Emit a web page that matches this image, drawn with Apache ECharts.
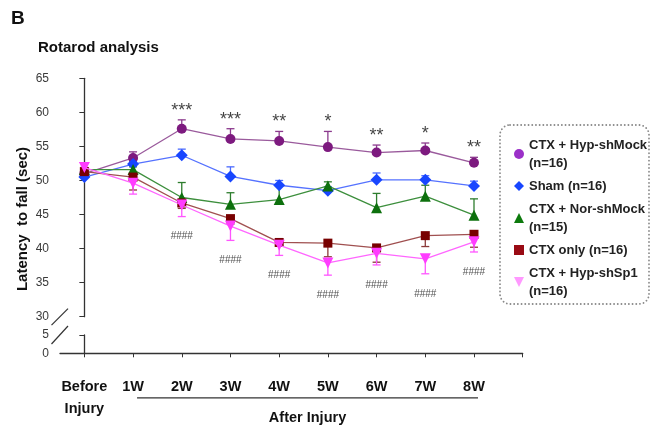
<!DOCTYPE html>
<html>
<head>
<meta charset="utf-8">
<script src="https://cdn.jsdelivr.net/npm/echarts@6/dist/echarts.min.js"></script>
<style>html,body{margin:0;padding:0;background:#fff}#c{width:650px;height:427px}</style>
</head>
<body>
<div id="c"></div>
<script>
const categories = ['Before\nInjury', '1W', '2W', '3W', '4W', '5W', '6W', '7W', '8W'];
const hypShMock    = [51.0, 53.3, 57.6, 56.1, 55.8, 54.9, 54.1, 54.4, 52.6];
const hypShMockSem = [0.3, 0.9, 1.3, 1.5, 1.4, 2.3, 1.1, 1.1, 0.8];
const sham         = [50.5, 52.4, 53.7, 50.6, 49.3, 48.5, 50.1, 50.1, 49.2];
const shamSem      = [0.3, 0.4, 0.9, 1.4, 0.7, 0.6, 1.0, 0.6, 0.7];
const norShMock    = [51.6, 51.6, 47.5, 46.5, 47.2, 49.2, 46.0, 47.7, 44.9];
const norShMockSem = [0.3, 0.4, 2.2, 1.7, 2.0, 0.6, 2.1, 1.6, 2.4];
const ctxOnly      = [51.3, 50.5, 46.7, 44.4, 40.9, 40.8, 40.1, 41.9, 42.1];
const ctxOnlySem   = [0.3, 1.9, 0.8, 0.8, 0.5, 2.0, 2.1, 1.6, 1.9];
const hypShSp1     = [51.9, 49.6, 46.4, 43.3, 40.5, 37.9, 39.3, 38.5, 41.0];
const hypShSp1Sem  = [0.4, 1.6, 1.7, 2.1, 1.5, 1.8, 1.7, 2.2, 1.5];
const starMarks = ['', '', '***', '***', '**', '*', '**', '*', '**'];
const hashMarks = ['', '', '####', '####', '####', '####', '####', '####', '####'];
const upperMin = 30, upperMax = 65, upperStep = 5;
const lowerMin = 0, lowerMax = 5, lowerStep = 5;

const SANS = "'Liberation Sans', Arial, Helvetica, sans-serif";

const groups = [
  {name: 'CTX + Hyp-shMock\n(n=16)', mean: hypShMock, sem: hypShMockSem, dir: 1, symbol: 'circle', size: 10, rot: 0,
   marker: '#7d1a7f', line: '#9a5a9c', err: '#8b3a8d', legendIcon: 'circle', legendColor: '#9b30c8'},
  {name: 'Sham (n=16)', mean: sham, sem: shamSem, dir: 1, symbol: 'diamond', size: 12, rot: 0,
   marker: '#1846ff', line: '#5572ff', err: '#4a6aff', legendIcon: 'diamond', legendColor: '#1846ff'},
  {name: 'CTX + Nor-shMock\n(n=15)', mean: norShMock, sem: norShMockSem, dir: 1, symbol: 'triangle', size: 11, rot: 0,
   marker: '#0d700d', line: '#3d8f3d', err: '#2e7d2e', legendIcon: 'triangle', legendColor: '#0d7a0d'},
  {name: 'CTX only (n=16)', mean: ctxOnly, sem: ctxOnlySem, dir: -1, symbol: 'rect', size: 9, rot: 0,
   marker: '#780000', line: '#a05050', err: '#8b3a3a', legendIcon: 'rect', legendColor: '#990a14'},
  {name: 'CTX + Hyp-shSp1\n(n=16)', mean: hypShSp1, sem: hypShSp1Sem, dir: -1, symbol: 'triangle', size: 11, rot: 180,
   marker: '#ff3cff', line: '#ff66ff', err: '#ff55ff', legendIcon: 'path://M0,0 L10,0 L5,10 Z', legendColor: '#ff99ff'}
];

const chart = echarts.init(document.getElementById('c'), null, {renderer: 'canvas'});

const series = [];
groups.forEach((g, k) => {
  series.push({
    type: 'custom', name: g.name + ' err', xAxisIndex: 0, yAxisIndex: 0, silent: true, z: 2,
    data: g.mean.map((v, i) => [i, v, g.sem[i]]),
    renderItem: (params, api) => {
      const x = api.value(0), m = api.value(1), e = api.value(2);
      const p0 = api.coord([x, m]);
      const p1 = api.coord([x, m + g.dir * e]);
      const hw = 4;
      return {type: 'group', children: [
        {type: 'line', shape: {x1: p0[0], y1: p0[1], x2: p1[0], y2: p1[1]}, style: {stroke: g.err, lineWidth: 1.3}},
        {type: 'line', shape: {x1: p1[0] - hw, y1: p1[1], x2: p1[0] + hw, y2: p1[1]}, style: {stroke: g.err, lineWidth: 1.3}}
      ]};
    }
  });
  series.push({
    type: 'line', name: g.name, xAxisIndex: 0, yAxisIndex: 0, z: 3 + k,
    data: g.mean.map((v, i) => [i, v]),
    symbol: g.symbol, symbolSize: g.size, symbolRotate: g.rot, showSymbol: true,
    itemStyle: {color: g.marker, borderWidth: 0},
    lineStyle: {color: g.line, width: 1.3},
    emphasis: {disabled: true}
  });
});

series.push({
  type: 'scatter', xAxisIndex: 0, yAxisIndex: 0, symbolSize: 0, silent: true, z: 10,
  data: starMarks.map((s, i) => s ? {value: [i, hypShMock[i] + hypShMockSem[i]], name: s} : null).filter(Boolean),
  label: {show: true, position: 'top', distance: 0, formatter: p => p.name,
          fontFamily: SANS, fontSize: 18, color: '#111'}
});
series.push({
  type: 'scatter', xAxisIndex: 0, yAxisIndex: 0, symbolSize: 0, silent: true, z: 10,
  data: hashMarks.map((s, i) => s ? {value: [i, hypShSp1[i] - hypShSp1Sem[i]], name: s} : null).filter(Boolean),
  label: {show: true, position: 'bottom', distance: 15, formatter: p => p.name,
          fontFamily: SANS, fontSize: 10, color: '#222'}
});

const xRange = {min: -0.5, max: 9};
const idx = categories.map((c, i) => i);

chart.setOption({
  animation: false,
  backgroundColor: '#fff',
  grid: [
    {left: 60, top: 78.3, width: 462.7, height: 238.4},
    {left: 60, top: 335, width: 462.7, height: 18.3}
  ],
  xAxis: [
    {type: 'value', gridIndex: 0, min: xRange.min, max: xRange.max, show: false, splitLine: {show: false}},
    {type: 'value', gridIndex: 1, min: xRange.min, max: xRange.max, splitLine: {show: false},
     axisLine: {show: true, onZero: false, lineStyle: {color: '#333', width: 1.3}},
     axisTick: {show: true, length: 4, customValues: idx.concat([categories.length]), lineStyle: {color: '#333'}},
     axisLabel: {customValues: idx, formatter: v => categories[Math.round(v)] || '', margin: 23,
                 fontFamily: SANS, fontWeight: 'bold', fontSize: 14.5, lineHeight: 22, color: '#111'}}
  ],
  yAxis: [
    {type: 'value', gridIndex: 0, min: upperMin, max: upperMax, interval: upperStep, splitLine: {show: false},
     axisLine: {show: true, lineStyle: {color: '#333', width: 1.3}},
     axisTick: {show: true, length: 5, lineStyle: {color: '#333'}},
     axisLabel: {margin: 11, fontFamily: SANS, fontSize: 12, color: '#3a3a3a'}},
    {type: 'value', gridIndex: 1, min: lowerMin, max: lowerMax, interval: lowerStep, splitLine: {show: false},
     axisLine: {show: true, lineStyle: {color: '#333', width: 1.3}},
     axisTick: {show: true, length: 5, lineStyle: {color: '#333'}},
     axisLabel: {margin: 11, fontFamily: SANS, fontSize: 12, color: '#3a3a3a'}}
  ],
  legend: {
    orient: 'vertical', left: 514, top: 136, itemWidth: 10, itemHeight: 10, itemGap: 5, padding: 0,
    selectedMode: false,
    data: groups.map(g => ({name: g.name, icon: g.legendIcon, itemStyle: {color: g.legendColor}})),
    textStyle: {fontFamily: SANS, fontWeight: 'bold', fontSize: 13, lineHeight: 18, color: '#222'}
  },
  series: series
});

// decorations computed from axes
const px = v => chart.convertToPixel({xAxisIndex: 1}, v);
const pyU = v => chart.convertToPixel({yAxisIndex: 0}, v);
const pyL = v => chart.convertToPixel({yAxisIndex: 1}, v);
const axisX = px(xRange.min);
const y30 = pyU(upperMin), y5 = pyL(lowerMax), y0 = pyL(lowerMin);
const x1 = px(1), x8 = px(8);

chart.setOption({
  graphic: [
    {type: 'text', left: 11, top: 9, style: {text: 'B', font: 'bold 19px ' + SANS, fill: '#111'}},
    {type: 'text', x: 38, y: 48, style: {text: 'Rotarod analysis', font: 'bold 15px ' + SANS, fill: '#111', verticalAlign: 'middle'}},
    {type: 'text', x: 23, y: 219, rotation: Math.PI / 2,
     style: {text: 'Latency  to fall (sec)', font: 'bold 15px ' + SANS, fill: '#111', align: 'center', verticalAlign: 'middle'}},
    {type: 'line', shape: {x1: axisX - 8.5, y1: y30 + 8.5, x2: axisX + 8, y2: y30 - 8}, style: {stroke: '#333', lineWidth: 1.2}},
    {type: 'line', shape: {x1: axisX - 8.5, y1: y5 + 9, x2: axisX + 8, y2: y5 - 9}, style: {stroke: '#333', lineWidth: 1.2}},
    {type: 'line', shape: {x1: x1 + 4, y1: y0 + 44.5, x2: x8 + 4, y2: y0 + 44.5}, style: {stroke: '#333', lineWidth: 1.3}},
    {type: 'text', x: (x1 + x8) / 2 + 4, y: y0 + 65, style: {text: 'After Injury', font: 'bold 14.5px ' + SANS, fill: '#111', align: 'center', verticalAlign: 'middle'}},
    {type: 'rect', shape: {x: 500, y: 125, width: 149, height: 179, r: 10}, z: -1,
     style: {fill: 'none', stroke: '#8a8a8a', lineWidth: 1.8, lineDash: [0.1, 3.6], lineCap: 'round'}}
  ]
});
</script>
</body>
</html>
